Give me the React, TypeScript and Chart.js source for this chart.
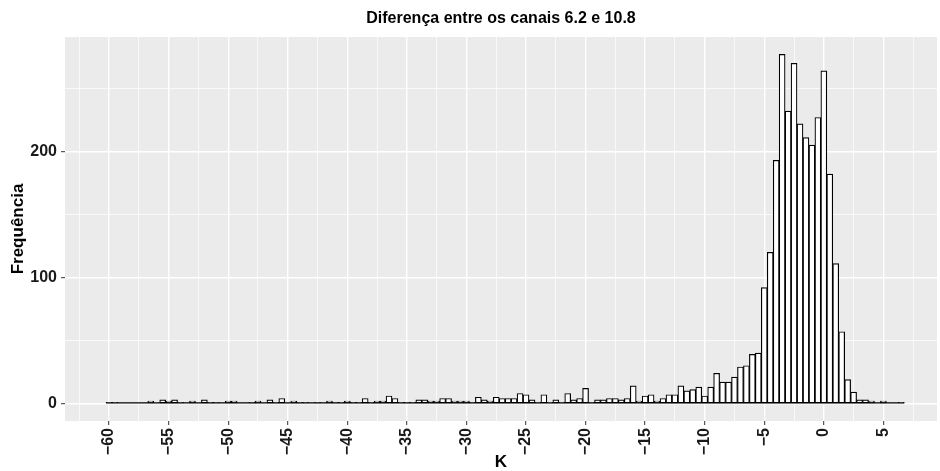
import React, { useEffect, useRef } from 'react';
import { Chart, registerables } from 'chart.js';

Chart.register(...registerables);

const TITLE = 'Diferença entre os canais 6.2 e 10.8';
const X_LABEL = 'K';
const Y_LABEL = 'Frequência';

// histogram bins: first bin centre and width (K)
const BIN_START = -60;
const BIN_WIDTH = 0.5;

// counts per bin, from -60 to 6.5 in steps of 0.5
const COUNTS = [
  1, 1, 0, 0, 0, 0, 0, 2, 0, 3, // -60 .. -55.5
  2, 3, 1, 0, 2, 0, 3, 1, 1, 0, // -55 .. -50.5
  2, 2, 0, 0, 1, 2, 0, 3, 1, 4, // -50 .. -45.5
  0, 2, 1, 1, 0, 1, 0, 2, 1, 1, // -45 .. -40.5
  2, 1, 1, 4, 1, 2, 2, 6, 4, 1, // -40 .. -35.5
  1, 1, 3, 3, 2, 2, 4, 4, 2, 2, // -35 .. -30.5
  2, 1, 5, 3, 2, 5, 4, 4, 4, 8, // -30 .. -25.5
  7, 3, 1, 7, 1, 3, 1, 8, 3, 4, // -25 .. -20.5
  12, 1, 3, 3, 4, 4, 3, 4, 14, 2, // -20 .. -15.5
  6, 7, 2, 4, 7, 7, 14, 10, 11, 13, // -15 .. -10.5
  6, 13, 24, 17, 17, 21, 29, 30, 39, 40, // -10 .. -5.5
  92, 120, 193, 277, 232, 270, 222, 211, 205, 227, // -5 .. -0.5
  264, 182, 111, 57, 19, 9, 3, 3, 2, 0, // 0 .. 4.5
  2, 0, 0, 1, // 5 .. 6.5
];

const X_MAJOR = [-60, -55, -50, -45, -40, -35, -30, -25, -20, -15, -10, -5, 0, 5];
const X_MINOR = [-62.5, -57.5, -52.5, -47.5, -42.5, -37.5, -32.5, -27.5, -22.5, -17.5, -12.5, -7.5, -2.5, 2.5, 7.5];
const Y_MAJOR = [0, 100, 200];
const Y_MINOR = [50, 150, 250];

const X_MIN = -63.7;
const X_MAX = 9.5;
const Y_MIN = -13.85;
const Y_MAX = 290.85;

const FONT = "'Liberation Sans', Arial, Helvetica, sans-serif";
const TEXT = '#1a1a1a';

const fmt = (v: number) => (v < 0 ? '\u2212' + Math.abs(v) : String(v));

export default function App() {
  const ref = useRef<HTMLCanvasElement>(null);

  useEffect(() => {
    const canvas = ref.current;
    if (!canvas) return;
    const centers = COUNTS.map((_, i) => BIN_START + i * BIN_WIDTH);
    const data = centers.map((x, i) => ({ x, y: COUNTS[i] }));

    const panelBg = {
      id: 'panelBg',
      beforeDraw(chart: any) {
        const { ctx, chartArea: a } = chart;
        ctx.save();
        ctx.fillStyle = '#EBEBEB';
        ctx.fillRect(a.left, a.top, a.right - a.left, a.bottom - a.top);
        ctx.restore();
      },
    };

    const baseline = {
      id: 'baseline',
      afterDatasetsDraw(chart: any) {
        const { ctx } = chart;
        const xs = chart.scales.x;
        const ys = chart.scales.y;
        const x0 = xs.getPixelForValue(centers[0] - BIN_WIDTH / 2);
        const x1 = xs.getPixelForValue(centers[centers.length - 1] + BIN_WIDTH / 2);
        const y = ys.getPixelForValue(0);
        ctx.save();
        ctx.strokeStyle = '#000';
        ctx.lineWidth = 1.2;
        ctx.beginPath();
        ctx.moveTo(x0, y - 0.6);
        ctx.lineTo(x1, y - 0.6);
        ctx.stroke();
        ctx.restore();
      },
    };

    const ggTitle = {
      id: 'ggTitle',
      afterDraw(chart: any) {
        const { ctx, chartArea: a } = chart;
        ctx.save();
        ctx.font = `bold 16px ${FONT}`;
        ctx.fillStyle = '#000';
        ctx.textAlign = 'center';
        ctx.textBaseline = 'middle';
        ctx.fillText(TITLE, (a.left + a.right) / 2, 19);
        ctx.restore();
      },
    };

    const chart = new Chart(canvas, {
      type: 'bar',
      data: {
        datasets: [
          {
            data,
            backgroundColor: '#ffffff',
            borderColor: '#000000',
            borderWidth: 1.2,
            borderSkipped: false,
            barPercentage: 1,
            categoryPercentage: 1,
          },
        ],
      },
      options: {
        responsive: false,
        animation: false,
        devicePixelRatio: 1,
        layout: { padding: { top: 37, right: 3, left: 0, bottom: 0 } },
        plugins: {
          legend: { display: false },
          tooltip: { enabled: false },
          title: { display: false },
        },
        scales: {
          x: {
            type: 'linear',
            min: X_MIN,
            max: X_MAX,
            offset: false,
            border: { display: false },
            afterBuildTicks: (s: any) => {
              s.ticks = [...X_MAJOR, ...X_MINOR].sort((a, b) => a - b).map((v) => ({ value: v }));
            },
            afterFit: (s: any) => {
              s.height = 50;
            },
            grid: {
              offset: false,
              color: '#ffffff',
              lineWidth: (c: any) => (c.tick && X_MAJOR.includes(c.tick.value) ? 1.4 : 0.7),
              tickColor: (c: any) => (c.tick && X_MAJOR.includes(c.tick.value) ? '#333333' : 'rgba(0,0,0,0)'),
              tickLength: 4,
              tickWidth: 1,
              drawTicks: true,
            },
            ticks: {
              autoSkip: false,
              minRotation: 90,
              maxRotation: 90,
              padding: 3,
              color: TEXT,
              font: { family: FONT, size: 16, weight: 'bold' },
              callback: (v: any) => (X_MAJOR.includes(Number(v)) ? fmt(Number(v)) : ''),
            },
            title: {
              display: true,
              text: X_LABEL,
              color: '#000',
              font: { family: FONT, size: 17, weight: 'bold', lineHeight: 1 },
              padding: { top: 0, bottom: 0 },
            },
          },
          y: {
            type: 'linear',
            min: Y_MIN,
            max: Y_MAX,
            border: { display: false },
            afterBuildTicks: (s: any) => {
              s.ticks = [...Y_MAJOR, ...Y_MINOR].sort((a, b) => a - b).map((v) => ({ value: v }));
            },
            afterFit: (s: any) => {
              s.width = 65;
            },
            grid: {
              color: '#ffffff',
              lineWidth: (c: any) => (c.tick && Y_MAJOR.includes(c.tick.value) ? 1.4 : 0.7),
              tickColor: (c: any) => (c.tick && Y_MAJOR.includes(c.tick.value) ? '#333333' : 'rgba(0,0,0,0)'),
              tickLength: 4,
              tickWidth: 1,
              drawTicks: true,
            },
            ticks: {
              padding: 4,
              color: TEXT,
              font: { family: FONT, size: 16, weight: 'bold' },
              callback: (v: any) => (Y_MAJOR.includes(Number(v)) ? fmt(Number(v)) : ''),
            },
            title: {
              display: true,
              text: Y_LABEL,
              color: '#000',
              font: { family: FONT, size: 17, weight: 'bold', lineHeight: 1 },
              padding: { top: 10, bottom: 0 },
            },
          },
        },
      },
      plugins: [panelBg, baseline, ggTitle],
    } as any);

    return () => chart.destroy();
  }, []);

  return (
    <div style={{ position: 'fixed', left: 0, top: 0, width: 940, height: 471, background: '#ffffff' }}>
      <canvas ref={ref} width={940} height={471} style={{ display: 'block' }} />
    </div>
  );
}
